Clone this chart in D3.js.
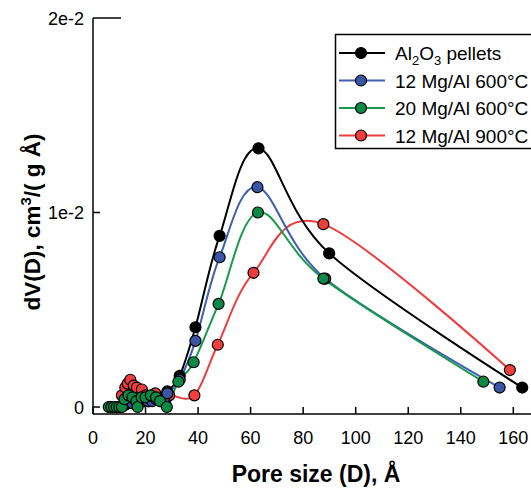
<!DOCTYPE html>
<html><head><meta charset="utf-8">
<script src="https://cdn.jsdelivr.net/npm/d3@7"></script>
<style>body{margin:0;background:#fff}</style></head>
<body><svg id="c" width="531" height="488"></svg>
<script>
// ---- data ----
const xTicks = [0, 20, 40, 60, 80, 100, 120, 140, 160];
const yTicks = [0, 0.01, 0.02];
const yTickLabels = ["0", "1e-2", "2e-2"];

const alX = [6.5, 7.5, 8.5, 9.5, 10.5, 12, 13.5, 15, 16.5, 18, 19.5, 21, 22.5, 24, 25.5, 27, 28.3, 33, 39, 48.2, 63, 89.9, 163.4];
const alY = [0, 0, 0, 0, 0, 0.0001, 0.0002, 0.0002, 0.0003, 0.0003, 0.0003, 0.0003, 0.0004, 0.0004, 0.0004, 0.0005, 0.0008, 0.0016, 0.0041, 0.0088, 0.0133, 0.0079, 0.0010];

const mg12X = [6.5, 7.5, 8.5, 9.5, 10.5, 12, 13.5, 15, 16.5, 18, 19.5, 21, 22.5, 24, 25.5, 27, 28.3, 33, 39, 48.2, 62.6, 88.4, 154.8];
const mg12Y = [0, 0, 0, 0, 0, 0.0001, 0.0002, 0.0002, 0.0003, 0.0003, 0.0003, 0.0003, 0.0003, 0.0004, 0.0004, 0.0004, 0.0007, 0.0014, 0.0034, 0.0077, 0.0113, 0.0066, 0.0010];

const mg20X = [6, 7, 8, 9, 10, 11, 12, 13.5, 15, 16.5, 17, 18.5, 20, 22, 24, 25.5, 28.1, 32.5, 38.3, 47.8, 62.8, 87.7, 148.6];
const mg20Y = [0, 0, 0, 0, 0, 0, 0.0004, 0.0006, 0.0005, 0.0003, 0, 0.0005, 0.0005, 0.0006, 0.0005, 0.0003, 0, 0.0013, 0.0023, 0.0053, 0.0100, 0.0066, 0.0013];

const mg900X = [11, 12.3, 13.2, 14.2, 15.5, 16.7, 18.6, 20, 21.5, 23.7, 25.5, 27.5, 29, 38.6, 47.5, 61.1, 87.7, 158.7];
const mg900Y = [0.0006, 0.0010, 0.0012, 0.0014, 0.0011, 0.0010, 0.0009, 0.0006, 0.0003, 0.0007, 0.0004, 0.0002, 0.0006, 0.0006, 0.0032, 0.0069, 0.0094, 0.0019];

const legendNames = ["Al2O3 pellets", "12 Mg/Al 600°C", "20 Mg/Al 600°C", "12 Mg/Al 900°C"];
const lineColors = ["#000000", "#3f5eb2", "#17994c", "#ef3d3d"];
const fillColors = ["#000000", "#3b55a6", "#0b8a46", "#ef3e3e"];

// ---- drawing ----
const svg = d3.select("#c");
const x = d3.scaleLinear().domain([0, 160]).range([93, 513.3]);
const y = d3.scaleLinear().domain([0, 0.02]).range([407, 18]);
const xAxisY = 414;

const series = [
  {xs: mg900X, ys: mg900Y, i: 3},
  {xs: alX, ys: alY, i: 0},
  {xs: mg12X, ys: mg12Y, i: 1},
  {xs: mg20X, ys: mg20Y, i: 2}
];

const line = d3.line().x(d => x(d[0])).y(d => y(d[1])).curve(d3.curveCatmullRom.alpha(0));

series.forEach(s => {
  const pts = s.xs.map((v, k) => [v, s.ys[k]]);
  svg.append("path").attr("d", line(pts)).attr("fill", "none")
    .attr("stroke", lineColors[s.i]).attr("stroke-width", 2);
});
series.forEach(s => {
  const pts = s.xs.map((v, k) => [v, s.ys[k]]);
  svg.append("g").selectAll("circle").data(pts).join("circle")
    .attr("cx", d => x(d[0])).attr("cy", d => y(d[1])).attr("r", 5.5)
    .attr("fill", fillColors[s.i]).attr("stroke", "#000").attr("stroke-width", 1.2);
});

// axes
const ax = svg.append("g").attr("stroke", "#000").attr("stroke-width", 1.5).attr("fill", "none");
ax.append("line").attr("x1", x(0)).attr("x2", 531).attr("y1", xAxisY).attr("y2", xAxisY);
ax.append("line").attr("x1", x(0)).attr("x2", x(0)).attr("y1", y(0.02)).attr("y2", xAxisY);
xTicks.forEach(t => {
  ax.append("line").attr("x1", x(t)).attr("x2", x(t)).attr("y1", xAxisY).attr("y2", xAxisY - 7);
});
yTicks.forEach(t => {
  ax.append("line").attr("x1", x(0)).attr("x2", x(0) + (t === 0.02 ? 28 : 7)).attr("y1", y(t)).attr("y2", y(t));
});

const font = "Liberation Sans, Arial, sans-serif";
svg.append("g").selectAll("text").data(xTicks).join("text")
  .attr("x", d => x(d)).attr("y", 444).attr("text-anchor", "middle")
  .attr("font-family", font).attr("font-size", 18).text(d => d);
svg.append("g").selectAll("text").data(yTicks).join("text")
  .attr("x", 84).attr("y", d => y(d) + 6.5).attr("text-anchor", "end")
  .attr("font-family", font).attr("font-size", 18).text((d, k) => yTickLabels[k]);

svg.append("text").attr("x", 316).attr("y", 482).attr("text-anchor", "middle")
  .attr("font-family", font).attr("font-size", 23).attr("font-weight", "bold")
  .text("Pore size (D), Å");

const yt = svg.append("text").attr("transform", "translate(40,222) rotate(-90)")
  .attr("text-anchor", "middle").attr("font-family", font).attr("font-size", 22.5).attr("font-weight", "bold");
yt.append("tspan").text("dV(D), cm");
yt.append("tspan").attr("dy", -9).attr("font-size", 15).text("3");
yt.append("tspan").attr("dy", 9).text("/( g Å)");

// legend
const lg = svg.append("g");
lg.append("rect").attr("x", 335.5).attr("y", 34.5).attr("width", 220).attr("height", 114)
  .attr("fill", "#fff").attr("stroke", "#000").attr("stroke-width", 1.5);
legendNames.forEach((n, k) => {
  const yy = 53 + k * 27.5;
  lg.append("line").attr("x1", 339).attr("x2", 385).attr("y1", yy).attr("y2", yy)
    .attr("stroke", lineColors[k]).attr("stroke-width", 2);
  lg.append("circle").attr("cx", 361).attr("cy", yy).attr("r", 5.5)
    .attr("fill", fillColors[k]).attr("stroke", "#000").attr("stroke-width", 1.2);
  const t = lg.append("text").attr("x", 395).attr("y", yy + 7)
    .attr("font-family", font).attr("font-size", 19);
  if (k === 0) {
    t.append("tspan").text("Al");
    t.append("tspan").attr("dy", 5).attr("font-size", 13).text("2");
    t.append("tspan").attr("dy", -5).text("O");
    t.append("tspan").attr("dy", 5).attr("font-size", 13).text("3");
    t.append("tspan").attr("dy", -5).text(" pellets");
  } else {
    t.text(n);
  }
});
</script>
</body></html>
